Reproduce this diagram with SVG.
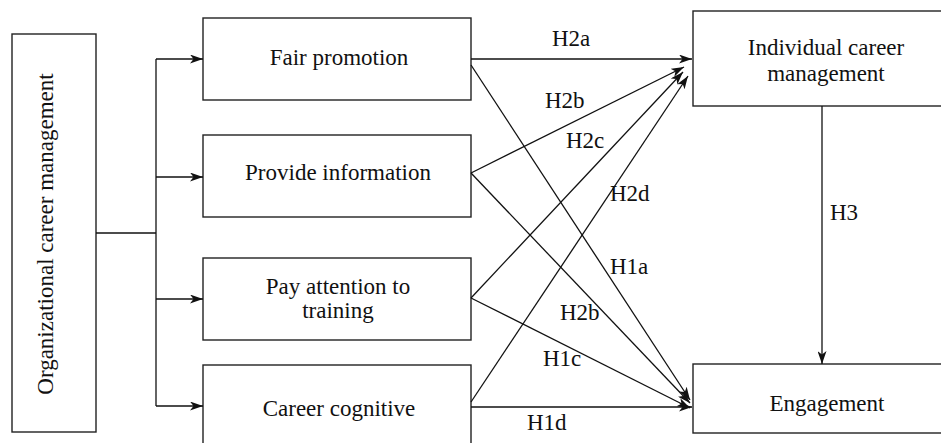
<svg xmlns="http://www.w3.org/2000/svg" width="941" height="443" viewBox="0 0 941 443">
<style>
.box{fill:#fff;stroke:#222;stroke-width:1.4}
.t{font-family:'Liberation Serif','DejaVu Serif',serif;font-size:23px;fill:#111}
.m{text-anchor:middle}
.ln{fill:none;stroke:#111;stroke-width:1.3}
</style>
<defs>
<marker id="ah" viewBox="0 0 13 9" refX="13" refY="4.5" markerWidth="13" markerHeight="9" markerUnits="userSpaceOnUse" orient="auto">
<path d="M0,0 L13,4.5 L0,9 L3.5,4.5 Z" fill="#111"/>
</marker>
</defs>
<rect width="941" height="443" fill="#fff"/>
<g id="ocm">
<rect class="box" x="12" y="34" width="84" height="398"/>
<text class="t m" transform="translate(53,234) rotate(-90)">Organizational career management</text>
</g>
<g id="fair">
<rect class="box" x="203" y="18" width="268" height="82"/>
<text class="t m" x="339" y="65">Fair promotion</text>
</g>
<g id="provide">
<rect class="box" x="203" y="135" width="268" height="82"/>
<text class="t m" x="338" y="180">Provide information</text>
</g>
<g id="pay">
<rect class="box" x="203" y="258" width="268" height="82"/>
<text class="t m" x="338" y="294">Pay attention to</text>
<text class="t m" x="338" y="318">training</text>
</g>
<g id="cognitive">
<rect class="box" x="203" y="365" width="268" height="84"/>
<text class="t m" x="339" y="416">Career cognitive</text>
</g>
<g id="icm">
<rect class="box" x="693" y="11" width="250" height="95"/>
<text class="t m" x="826" y="55">Individual career</text>
<text class="t m" x="826" y="81">management</text>
</g>
<g id="engagement">
<rect class="box" x="693" y="364" width="250" height="69"/>
<text class="t m" x="827" y="411">Engagement</text>
</g>
<g id="connectors">
<polyline class="ln" points="96,233 156,233"/>
<polyline class="ln" points="156,59 156,406"/>
<line class="ln" x1="156" y1="59" x2="203" y2="59" marker-end="url(#ah)"/>
<line class="ln" x1="156" y1="177" x2="203" y2="177" marker-end="url(#ah)"/>
<line class="ln" x1="156" y1="299" x2="203" y2="299" marker-end="url(#ah)"/>
<line class="ln" x1="156" y1="406" x2="203" y2="406" marker-end="url(#ah)"/>
<line class="ln" x1="471" y1="59" x2="692" y2="59" marker-end="url(#ah)"/>
<line class="ln" x1="471" y1="173" x2="684" y2="67" marker-end="url(#ah)"/>
<line class="ln" x1="471" y1="298" x2="683" y2="72" marker-end="url(#ah)"/>
<line class="ln" x1="471" y1="402" x2="688" y2="76" marker-end="url(#ah)"/>
<line class="ln" x1="471" y1="65" x2="690" y2="400" marker-end="url(#ah)"/>
<line class="ln" x1="471" y1="173" x2="690" y2="403" marker-end="url(#ah)"/>
<line class="ln" x1="471" y1="298" x2="690" y2="408" marker-end="url(#ah)"/>
<line class="ln" x1="471" y1="407" x2="692" y2="407" marker-end="url(#ah)"/>
<line class="ln" x1="822" y1="106" x2="822" y2="364" marker-end="url(#ah)"/>
<text class="t" x="552" y="46">H2a</text>
<text class="t" x="545" y="108">H2b</text>
<text class="t" x="566" y="148">H2c</text>
<text class="t" x="610" y="201">H2d</text>
<text class="t" x="610" y="274">H1a</text>
<text class="t" x="560" y="320">H2b</text>
<text class="t" x="543" y="366">H1c</text>
<text class="t" x="527" y="430">H1d</text>
<text class="t" x="830" y="220">H3</text>
</g>
</svg>
